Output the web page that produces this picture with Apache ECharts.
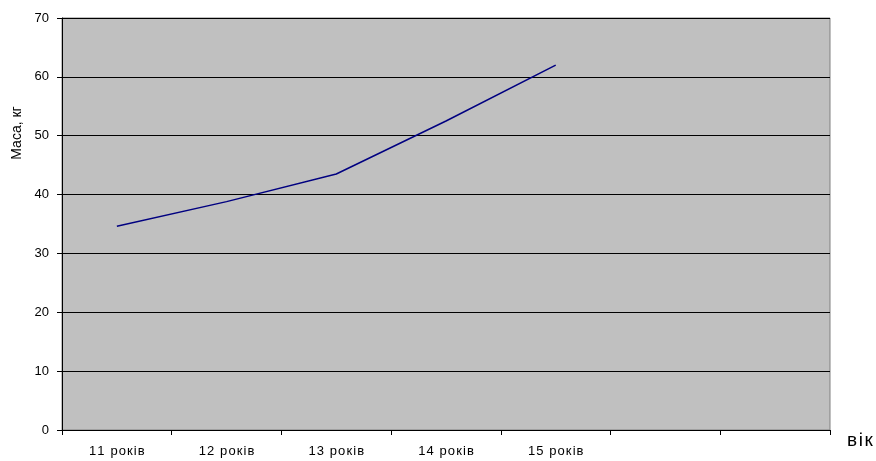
<!DOCTYPE html>
<html>
<head>
<meta charset="utf-8">
<script src="https://cdn.jsdelivr.net/npm/echarts@6/dist/echarts.min.js"></script>
<style>
  html, body { margin: 0; padding: 0; background: #ffffff; }
  #chart { width: 876px; height: 461px; }
</style>
</head>
<body>
<div id="chart"></div>
<script>
// Age categories (two trailing empty slots on the axis)
const categories = ['11 років', '12 років', '13 років', '14 років', '15 років', '', ''];
// Body mass, kg
const massValues = [34.6, 38.8, 43.5, 52.5, 62.0, null, null];
// Value-axis ticks
const yMin = 0, yMax = 70, yStep = 10;

const chart = echarts.init(document.getElementById('chart'), null, { renderer: 'canvas' });
chart.setOption({
  animation: false,
  backgroundColor: '#ffffff',
  textStyle: { fontFamily: '"Liberation Sans", Arial, sans-serif' },
  grid: {
    left: 62, right: 46, top: 18, bottom: 31,
    show: true, backgroundColor: '#C0C0C0', borderColor: '#808080', borderWidth: 1
  },
  xAxis: {
    type: 'category',
    data: categories,
    boundaryGap: true,
    axisLine: { show: true, lineStyle: { color: '#000000', width: 1 } },
    axisTick: { show: true, inside: false, length: 5, alignWithLabel: false, lineStyle: { color: '#000000' } },
    axisLabel: {
      color: '#000000', fontSize: 13, margin: 15, interval: 0,
      // slightly spaced lettering for the age labels
      formatter: v => v.split('').join('\u200A')
    },
    splitLine: { show: false }
  },
  yAxis: {
    type: 'value',
    min: yMin, max: yMax, interval: yStep,
    axisLine: { show: true, lineStyle: { color: '#000000', width: 1 } },
    axisTick: { show: true, inside: false, length: 5, lineStyle: { color: '#000000' } },
    axisLabel: { color: '#000000', fontSize: 13, margin: 13 },
    splitLine: { show: true, lineStyle: { color: '#000000', width: 1 } }
  },
  graphic: [
    {
      type: 'text',
      x: 17, y: 133, rotation: Math.PI / 2,
      style: {
        text: 'Маса, кг', fill: '#000000',
        font: '14px "Liberation Sans", Arial, sans-serif',
        align: 'center', verticalAlign: 'middle'
      }
    },
    {
      type: 'text',
      x: 860, y: 441,
      style: {
        text: 'в\u200Aі\u200Aк', fill: '#000000',
        font: '19px "Liberation Sans", Arial, sans-serif',
        align: 'center', verticalAlign: 'middle'
      }
    }
  ],
  series: [{
    type: 'line',
    data: massValues,
    showSymbol: false,
    symbol: 'none',
    connectNulls: false,
    lineStyle: { color: '#000080', width: 1.5 }
  }]
});
</script>
</body>
</html>
